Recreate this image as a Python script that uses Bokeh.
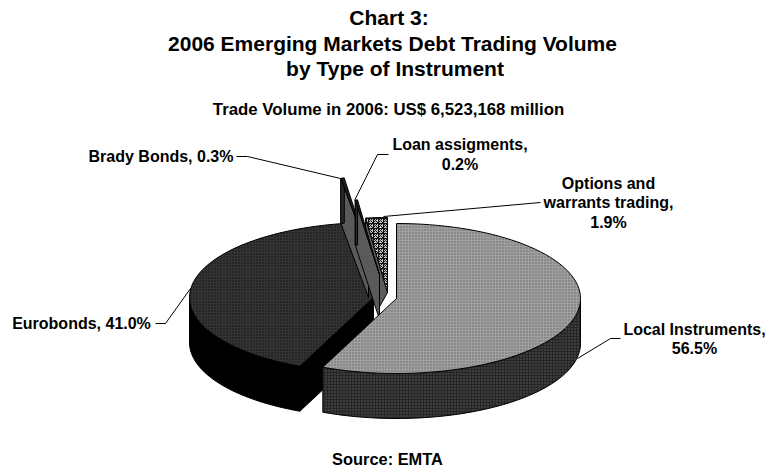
import numpy as np
from bokeh.plotting import figure
from bokeh.core.properties import value
from bokeh.embed import file_html
from bokeh.resources import INLINE

instruments = ["Local Instruments", "Eurobonds", "Brady Bonds", "Loan assigments", "Options and warrants trading"]
shares = [56.5, 41.0, 0.3, 0.2, 1.9]
title_lines = ["Chart 3:", "2006 Emerging Markets Debt Trading Volume", "by Type of Instrument"]
subtitle = "Trade Volume in 2006: US$ 6,523,168 million"
source = "Source: EMTA"

RX, RY, DEPTH = 184, 75, 45
centers = {"Local Instruments": (396, 298), "Eurobonds": (373, 297), "Brady Bonds": (368, 252),
           "Loan assigments": (379, 274), "Options and warrants trading": (387, 292)}

total = sum(shares)
starts = np.concatenate([[0], np.cumsum(shares)[:-1]]) / total * 2 * np.pi
ends = np.cumsum(shares) / total * 2 * np.pi


def rim(c, a0, a1, n=80):
    t = np.linspace(a0, a1, n)
    return c[0] + RX * np.sin(t), c[1] - RY * np.cos(t), t


p = figure(width=766, height=469, x_range=(0, 766), y_range=(469, 0), output_backend="svg",
           toolbar_location=None, min_border=0, outline_line_color=None)
p.axis.visible = False
p.grid.visible = False


def poly(xs, ys, fill, hatch=None, hc="black", scale=3, weight=1, line="black"):
    kw = dict(fill_color=fill, line_color=line, line_width=1)
    if hatch:
        kw.update(hatch_pattern=hatch, hatch_color=hc, hatch_scale=scale, hatch_weight=weight)
    p.patch(list(xs), list(ys), **kw)


def wall(i, fill, hatch=None, hc="black"):
    c = centers[instruments[i]]
    x, y, t = rim(c, starts[i], ends[i])
    front = np.cos(t) < 0
    fx, fy = x[front], y[front]
    poly(np.r_[fx, fx[::-1]], np.r_[fy, fy[::-1] + DEPTH], fill, hatch, hc)
    return c, x, y


# Eurobonds
c, x, y = wall(1, "#000000")
poly([x[0], c[0], c[0], x[0]], [y[0], c[1], c[1] + DEPTH, y[0] + DEPTH], "#000000")
poly(np.r_[c[0], x], np.r_[c[1], y], "#343434", "dot", "#111111", 3, 1)

# Options, Brady, Loan: thin exploded slices
c = centers[instruments[4]]
x, y, _ = rim(c, starts[4], ends[4], 8)
poly([x[0], c[0], c[0] - 9, x[0]], [y[0], c[1], c[1] + 16, y[0] + 16], "#5c5c5c")
poly(np.r_[c[0], x], np.r_[c[1], y], "#c0c0c0", "criss_cross", "#111111", 5, 1)
for i in (2, 3):
    c = centers[instruments[i]]
    x, y, _ = rim(c, starts[i], ends[i], 8)
    poly([x[0], c[0], c[0], x[0]], [y[0], c[1], c[1] + DEPTH, y[0] + DEPTH], "#5a5a5a")
    poly([x[-1], x[-1], x[0], x[0]], [y[-1], y[-1] + DEPTH, y[0] + DEPTH, y[0]], "#2a2a2a")
    poly(np.r_[c[0], x], np.r_[c[1], y], "#1c1c1c")

# Local instruments
c, x, y = wall(0, "#262626", "dot", "#5e5e5e")
poly(np.r_[c[0], x], np.r_[c[1], y], "#a0a0a0", "dot", "#666666", 3, 1)

# leader lines
leaders = [([236, 247, 340], [156, 156, 178]),
           ([388, 377, 354], [154, 154, 200]),
           ([540, 383], [202, 216]),
           ([155, 165, 190], [323, 323, 288]),
           ([620, 610, 577], [338, 338, 358])]
for lx, ly in leaders:
    p.line(lx, ly, line_color="black", line_width=1)


def txt(x, y, s, size):
    p.text([x], [y], text=[s], text_font=value("Liberation Sans"), text_font_style="bold",
           text_font_size=f"{size}px", text_align="center", text_baseline="middle", text_color="black")


txt(388.5, 17, title_lines[0], 21)
txt(392, 43, title_lines[1], 21)
txt(394.5, 68, title_lines[2], 21)
txt(388, 109, subtitle, 16.8)
txt(160.5, 156, "Brady Bonds, 0.3%", 16)
txt(459.5, 144, "Loan assigments,", 16)
txt(459.5, 164, "0.2%", 16)
txt(608, 183, "Options and", 16)
txt(608, 202, "warrants trading,", 16)
txt(608, 222, "1.9%", 16)
txt(81, 323, "Eurobonds, 41.0%", 16)
txt(694, 329, "Local Instruments,", 16)
txt(694, 348, "56.5%", 16)
txt(387, 458.5, source, 16.4)

open("out.html", "w").write(file_html(p, INLINE))
